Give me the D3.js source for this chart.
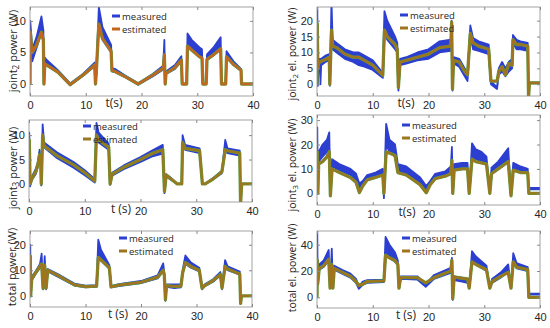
<!DOCTYPE html>
<html>
<head>
<meta charset="utf-8">
<script src="https://cdn.jsdelivr.net/npm/d3@7"></script>
<style>
  body { margin: 0; background: #fff; }
  svg { font-family: "Open Sans", sans-serif; }
</style>
</head>
<body>
<svg id="chart" width="550" height="328"></svg>
<script>
// rows: [t (s), measured upper, measured lower, estimated]
const joint2Power = [
  [0,0,0,0],[0.05,10,8,8.2],[0.4,5.5,3.6,5],[1.2,7.5,5.8,6.2],[2.05,10.7,8.3,8.2],[2.4,8.5,6.5,7],
  [2.5,0,0,0],[2.65,4.2,3.3,3.2],[3,3.8,3,3],[5,2.2,1.8,1.9],[7.2,0.1,-0.2,-0.1],[9.5,1.6,1.3,1.4],
  [11.6,3.4,2.8,3],[11.75,0,0,0],[11.9,2.2,1.8,2],[12.35,12.2,9.5,9.5],[13,9,7,7.2],[14.55,6.2,5,5.2],
  [14.7,2.5,2,2.1],[15.2,2.4,1.9,2],[17,1.4,1.1,1.2],[19.4,0.1,-0.1,0],[22,1.6,1.2,1.4],[23.9,2.9,2.3,2.5],
  [24.1,7,4.5,4.6],[24.25,0,0,0],[24.4,2,1.6,1.7],[26,3,2.4,2.6],[27.15,4.4,3.6,3.8],[27.3,0,0,0],
  [28.1,0,0,0],[28.25,8,6,6],[29,7,5.5,5.4],[30.4,5.8,4.3,4.3],[30.85,5.5,4,4.1],[31,0,0,0],
  [31.6,0,0,0],[31.75,4.7,3.8,3.9],[33,5.9,4.6,4.7],[34.2,7.4,5.5,5.6],[34.35,0,0,0],[35.1,0,0,0],
  [35.25,5.2,4.2,4.3],[36.5,3.6,3,3.1],[37.85,2.4,2.1,2.2],[37.95,0,0,0],[40,0,0,0]
];
const joint2ElPower = [
  [0,0,0,0],[0.05,26,20,19],[0.15,0,-0.5,5],[0.3,8,6,7],[0.55,8,6,7],[0.62,8,0,7],[0.75,8,6,7.2],
  [1.5,9,7,7.8],[2.2,9.5,7.5,8.5],[2.3,0,-0.5,0],[2.6,26,18,17],[2.8,14,11,12],[3.5,13,10,11.5],
  [5,11,8,9.5],[6.5,10,7,8.5],[7.5,10,6,8.5],[8.5,9,5.5,7.5],[10,7.5,4.5,6],[11.8,3.5,2,2.8],
  [12.1,23,16,17],[12.6,20,14,15],[14,15,11,12.5],[14.4,13,10,11],[14.6,-1.5,-2,-1],[14.9,8,6,7],
  [16,8.5,6.5,7.5],[18,10,7.5,8.5],[20,11,8,9.5],[22,13.5,10,11.5],[24,14,10.5,12],[24.15,20,18,19.5],
  [24.3,-2,-2,-1.5],[24.5,8.5,6.5,7.5],[25.5,8,5.5,7],[26.5,5,2.5,4],[27,3,1,3],[27.5,18.5,15,16],
  [28,14.5,11,13],[29,13.5,10.5,12],[30.8,12.5,9.5,11],[31.2,1,0,1],[32.3,-1,-1.5,1],[32.6,5,3,4],
  [33.2,7,4,5.5],[33.8,5,2.5,3],[34.4,7,4,6.5],[35,8,5,6],[35.15,15.5,13,14],[35.8,14,11,12.5],
  [36.5,13.5,11,12.5],[37.8,13,10.5,12],[37.95,-4,-4,-4],[38.1,0.5,0.3,0.4],[40,0.5,0.3,0.4]
];
const joint3Power = [
  [0,0,0,0],[0.05,10.5,9,9],[0.2,-0.5,-0.5,0],[0.5,1.5,0.8,1],[1.2,3,2,2.5],[1.6,4.5,3.5,4],
  [1.9,7,5.5,6],[2.1,5,4,4.5],[2.2,0,-0.3,0],[2.45,12.2,10,10],[2.7,8.5,7.5,7.8],[5,6.5,5.3,5.8],
  [8,4.5,3.3,3.9],[10,2.8,1.8,2.3],[11.8,1,0.3,0.6],[12.1,12.5,10,10],[12.5,10.5,8.5,9],[14.3,8.2,7,7.5],
  [14.55,0,-0.2,0],[14.9,2.3,1.7,2],[17,3.8,3,3.4],[20,5.5,4.5,5],[22,6.8,5.6,6.2],[24,8,6.2,7],
  [24.3,-1.9,-1.9,-1.5],[24.6,2,1.5,1.8],[25.5,1.2,0.8,1],[26.6,0,0,0],[27.4,0,0,0],[27.55,10,8.5,8.5],
  [28,8,7,7.3],[30.6,7.3,6.3,6.8],[31.1,0,0,0],[31.6,0,0,0],[33,1.2,0.9,1],[34.6,2.7,2.2,2.5],
  [35.2,9,7,7],[35.6,7.3,6.3,6.8],[37.8,6.8,5.8,6.3],[37.95,-4,-4,-4],[38.15,0,0,0],[40,0,0,0]
];
const joint3ElPower = [
  [0,0,0,0],[0.05,27,20,17],[0.15,0,0,0],[0.3,17,13,12],[1,20,15,13],[1.8,22,17,15],[2.2,25,19,17],
  [2.4,-1,-1,-1],[2.7,14,11,10],[4,12,9.5,8.5],[6,10,7.5,6.5],[7,8,5.5,4.5],[7.6,4,2.5,0.3],[8.2,5,3,3],
  [9,7.5,5.5,5.5],[10.5,8.5,6.5,6.5],[11.8,10,7.5,7.5],[12,-2,-2,0],[12.4,28.5,20,17],[13,22,17,16.5],
  [14,20,15,15.5],[14.5,12,9.5,8.5],[16,11,8,7.5],[18.5,6.5,4.5,3.5],[19.6,3,1.5,0.2],[20.3,5,3.5,3.5],
  [21.2,8,6,6],[23,9,7,7],[24,11,8.5,8],[24.2,19,13,13.5],[24.35,0,0,0],[24.6,12,9.5,9.5],
  [26,12.5,10,10],[27,12.5,10,10],[27.3,0,0,0],[27.8,20.5,14,14],[28.5,18,14,13],[29.5,17,13,12.5],
  [30.4,15,12,12],[31,0,0,0],[31.3,10.5,8,8],[32.5,13,10,10],[34.3,18.5,13,13],[34.8,-1,-1,-1],
  [35.2,12.5,10,9.5],[36.5,11,9,8.5],[37.8,10,8.5,8.5],[38,0,0,0],[38.1,2.2,1.6,0],[40,2.2,1.6,0]
];
const totalPower = [
  [0,0,0,0],[0.05,20,16,15.5],[0.12,0,0,0],[0.3,7.5,6,6.5],[1,9.5,8.5,9],[1.8,12.5,11,11.5],
  [2.1,16.5,12.5,12.5],[2.35,3,2.5,3],[2.65,15.5,12,12],[2.9,3,2.5,3],[3.2,10.5,9.5,10],[5,8.5,7.5,8],
  [8,4.8,4,4.3],[10,4,3.3,3.6],[12,4.2,3.5,3.8],[12.3,22,15,15],[12.8,18,14,14],[14.3,12,10.5,11],
  [14.6,3.8,3.3,3.5],[16,4.6,3.8,4.2],[20,5.8,5,5.3],[23,8,6.8,7.3],[24,12.7,9.5,10],[24.2,9,8,8],
  [24.4,-2,-2,-1.5],[24.6,4.5,3.5,4],[26,4.5,3,3.7],[27.2,4.5,3.3,3.8],[27.5,10,9,9],[28,15.8,12.5,13],
  [29,13,11,11.5],[30.5,11,9.5,10],[31,3,2.5,3],[31.5,4.5,3.8,4],[33,6.5,5.5,6],[34.3,9.3,8,8.3],
  [34.6,3,2.5,3],[35.15,14,11.5,11.5],[35.6,11.5,10,10.5],[37.8,9.5,8.3,8.5],[37.95,-3.2,-3.2,-3],
  [38.1,0,0,0],[40,0,0,0]
];
const totalElPower = [
  [0,0,0,0],[0.05,52,30,28.5],[0.12,10,9,10],[0.4,25,21,22],[1.2,28,23,24],[2.1,36,28,29],[2.35,7,7,7],
  [2.65,37,26,25],[2.85,7,7,7],[3.1,24,21,22],[4.5,21,18,19],[6,18,15,16],[7,14,11,12],[7.5,8,6.5,9],
  [8.2,12,9.5,10],[9,13,11,12],[12,13.5,11.5,12.5],[12.3,46,33,32],[13,40,30,30],[14,34,27,28],
  [14.5,28,25,25],[14.7,7,7,7],[15,16,14,15],[18,16,13.5,15],[19.5,10,8,11],[21,17,14,15],
  [24,22.5,18.5,20],[24.2,30,27,28],[24.35,-2,-2,-1],[24.6,16,13,15.5],[26,15,12,14.5],[27,13,11,14],
  [27.3,7,7,7],[27.8,35,27,27],[28.5,31,25,25],[30.4,24,20,21],[31,7,7,7],[31.4,14,11,12],
  [33,19,15,16],[34.3,25,20,19],[34.8,7,7,7],[35.2,33.5,26,27],[35.8,26,22,23],[37.8,23,20,21],
  [38,0,0,0],[38.1,2.8,2,0],[40,2.8,2,0]
];

const xTicks = [0, 10, 20, 30, 40];
const j2PowerTicks = [0, 5, 10];
const j2ElTicks = [0, 5, 10, 15, 20];
const j3PowerTicks = [0, 5, 10];
const j3ElTicks = [0, 10, 20, 30];
const totalTicks = [0, 10, 20];
const totalElTicks = [0, 20, 40];
const legendNames = ["measured", "estimated"];

const blue = "#2c3fd0";

// box: [left, top, right, bottom] in px
const panels = [
  { rows: joint2Power, ticks: j2PowerTicks, yDom: [-1.9, 12.2], box: [30, 7, 253, 96],
    ylab: ["joint", "2", " power (W)"], ylabPos: [12, 51], ylabSize: 11,
    xlab: "t(s)", xlabX: 114, leg: [112, 16, 29], est: "#c2661e" },
  { rows: joint2ElPower, ticks: j2ElTicks, yDom: [-3.7, 24.3], box: [317, 7, 540, 96],
    ylab: ["joint", "2", " el. power (W)"], ylabPos: [292, 54], ylabSize: 10.5,
    xlab: "t(s)", xlabX: 406, leg: [400, 15, 28], est: "#a0741e" },
  { rows: joint3Power, ticks: j3PowerTicks, yDom: [-3.7, 13.1], box: [29, 120, 252, 202],
    ylab: ["joint", "3", " power (W)"], ylabPos: [12, 168], ylabSize: 11,
    xlab: "t (s)", xlabX: 121, leg: [83, 126, 139], est: "#9a781e" },
  { rows: joint3ElPower, ticks: j3ElTicks, yDom: [-4.8, 32.1], box: [317, 115, 540, 205],
    ylab: ["joint", "3", " el. power (W)"], ylabPos: [292, 165], ylabSize: 10.5,
    xlab: "t(s)", xlabX: 407, leg: [402, 125, 138], est: "#9a781e" },
  { rows: totalPower, ticks: totalTicks, yDom: [-4.4, 25.4], box: [30, 231, 252, 307],
    ylab: ["total power (W)"], ylabPos: [11, 267], ylabSize: 11,
    xlab: "t (s)", xlabX: 118, leg: [119, 238, 251], est: "#a0741e" },
  { rows: totalElPower, ticks: totalElTicks, yDom: [-8.1, 50.4], box: [317, 231, 540, 308],
    ylab: ["total el. power (W)"], ylabPos: [292, 268], ylabSize: 10.5,
    xlab: "t (s)", xlabX: 406, leg: [402, 238, 251], est: "#a0741e" }
];

const svg = d3.select("#chart");

panels.forEach((p, i) => {
  const [x0, y0, x1, y1] = p.box;
  const x = d3.scaleLinear().domain([0, 40]).range([x0, x1]);
  const y = d3.scaleLinear().domain(p.yDom).range([y1, y0]);
  const g = svg.append("g");

  g.append("clipPath").attr("id", "clip" + i)
    .append("rect").attr("x", x0).attr("y", y0).attr("width", x1 - x0).attr("height", y1 - y0);
  const plot = g.append("g").attr("clip-path", "url(#clip" + i + ")");

  // measured: noisy band
  const band = d3.area().x(d => x(d[0])).y0(d => y(d[2])).y1(d => y(d[1]));
  plot.append("path").datum(p.rows).attr("d", band)
    .attr("fill", blue).attr("stroke", blue).attr("stroke-width", 1.8).attr("stroke-linejoin", "round");

  // estimated
  const line = d3.line().x(d => x(d[0])).y(d => y(d[3]));
  plot.append("path").datum(p.rows).attr("d", line)
    .attr("fill", "none").attr("stroke", "#5e9a3c").attr("stroke-width", 3.3).attr("stroke-linejoin", "round");
  plot.append("path").datum(p.rows).attr("d", line)
    .attr("fill", "none").attr("stroke", p.est).attr("stroke-width", 2.3).attr("stroke-linejoin", "round");

  // axes, ticks inside
  const styleAxis = a => {
    a.select(".domain").remove();
    a.selectAll(".tick line").attr("stroke", "#888");
    a.selectAll(".tick text").attr("fill", "#262626").style("font-size", "11px");
  };
  g.append("g").attr("transform", `translate(0,${y1})`)
    .call(d3.axisBottom(x).tickValues(xTicks).tickSize(-3).tickPadding(5)).call(styleAxis);
  g.append("g").attr("transform", `translate(0,${y0})`)
    .call(d3.axisTop(x).tickValues(xTicks).tickSize(-3).tickFormat("")).call(styleAxis);
  g.append("g").attr("transform", `translate(${x0},0)`)
    .call(d3.axisLeft(y).tickValues(p.ticks).tickSize(-3).tickPadding(4)).call(styleAxis);
  g.append("g").attr("transform", `translate(${x1},0)`)
    .call(d3.axisRight(y).tickValues(p.ticks).tickSize(-3).tickFormat("")).call(styleAxis);

  g.append("rect").attr("x", x0).attr("y", y0).attr("width", x1 - x0).attr("height", y1 - y0)
    .attr("fill", "none").attr("stroke", "#8c8c8c").attr("stroke-width", 0.8);

  // x label
  g.append("text").attr("x", p.xlabX).attr("y", y1 + 11)
    .attr("text-anchor", "middle").attr("fill", "#262626").style("font-size", "12px").text(p.xlab);

  // y label
  const yl = g.append("text")
    .attr("transform", `translate(${p.ylabPos[0]},${p.ylabPos[1]}) rotate(-90)`)
    .attr("text-anchor", "middle").attr("dominant-baseline", "central")
    .attr("fill", "#262626").style("font-size", p.ylabSize + "px");
  if (p.ylab.length === 3) {
    yl.append("tspan").text(p.ylab[0]);
    yl.append("tspan").attr("dy", "0.35em").style("font-size", (p.ylabSize * 0.75) + "px").text(p.ylab[1]);
    yl.append("tspan").attr("dy", "-0.3em").text(p.ylab[2]);
  } else {
    yl.text(p.ylab[0]);
  }

  // legend
  const [lx, ly1, ly2] = p.leg;
  [[ly1, blue], [ly2, p.est]].forEach(([ly, c], k) => {
    g.append("line").attr("x1", lx).attr("x2", lx + 8).attr("y1", ly).attr("y2", ly)
      .attr("stroke", c).attr("stroke-width", 3);
    g.append("text").attr("x", lx + 10).attr("y", ly).attr("dominant-baseline", "central")
      .attr("fill", "#262626").style("font-size", "9.5px").text(legendNames[k]);
  });
});
</script>
</body>
</html>
